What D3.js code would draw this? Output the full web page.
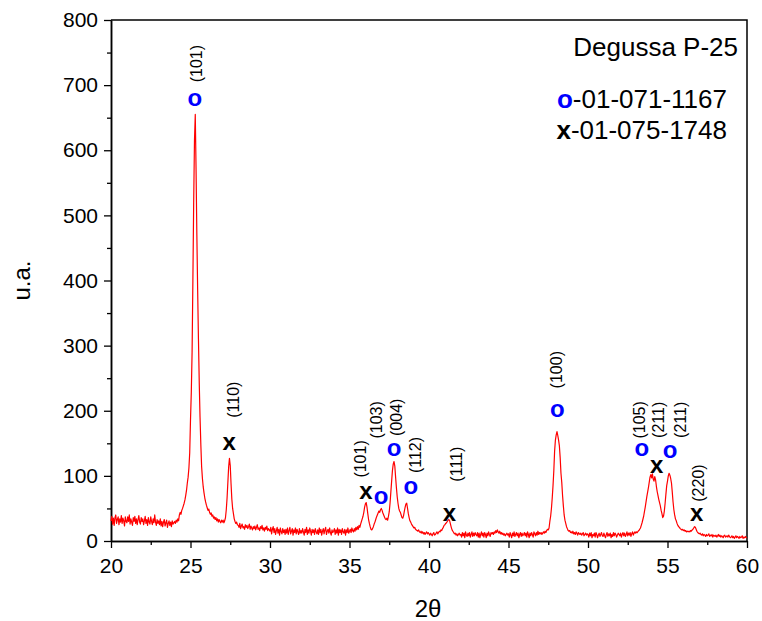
<!DOCTYPE html>
<html>
<head>
<meta charset="utf-8">
<script src="https://cdn.jsdelivr.net/npm/d3@7"></script>
<style>
  body { margin: 0; background: #fff; }
  svg { display: block; font-family: Arial, "Liberation Sans", sans-serif; }
</style>
</head>
<body>
<svg id="chart" width="762" height="621"></svg>
<script>
// XRD scan of Degussa P-25: 2θ from 20° to 60° in 0.05° steps
const scanStart = 20;
const scanStep = 0.05;

const counts20to25 = [
  31,38,26,35,24,36,40,27,33,37,25,34,29,39,27,35,31,23,37,30,
  28,37,30,40,26,34,29,24,36,30,38,27,34,25,33,39,29,26,36,30,
  34,25,31,38,27,33,24,36,29,26,37,30,25,34,28,40,29,24,33,27,
  31,25,34,23,30,22,29,33,23,28,32,21,27,31,24,29,22,31,26,28,
  30,27,32,29,34,31,40,44,41,47,50,54,58,63,70,78,89,98,112,135
];
const counts25to30 = [
  186,228,290,400,520,615,655,570,470,385,310,243,190,148,114,96,83,74,66,60,
  55,51,47,49,44,41,43,38,40,35,37,33,36,31,34,29,33,30,28,32,
  29,32,28,31,36,48,66,90,114,127,116,88,64,50,42,34,30,27,29,25,
  24,21,27,19,23,26,20,22,18,25,21,24,19,22,26,18,23,20,17,22,
  19,23,17,21,25,18,20,16,22,19,24,17,20,15,21,18,23,16,19,17
];
const counts30to35 = [
  15,21,11,18,22,13,19,10,16,21,12,18,9,20,14,11,19,13,17,10,
  18,12,20,10,16,21,11,15,19,9,17,13,20,11,18,14,10,19,12,16,
  12,19,14,9,18,13,21,10,17,12,20,15,9,18,13,17,10,19,14,11,
  17,10,20,13,18,9,15,19,11,17,21,10,15,18,12,20,13,9,17,13,
  15,19,10,17,12,20,9,18,13,17,10,19,14,12,18,9,17,13,20,12
];
const counts35to40 = [
  15,18,13,20,16,14,19,15,21,17,22,18,24,21,26,30,34,38,44,52,
  57,59,52,42,33,27,22,18,17,19,22,26,29,33,37,40,43,46,44,48,
  50,47,43,40,37,34,33,35,32,38,45,58,75,92,108,118,122,115,98,82,
  68,58,50,46,44,40,36,35,39,46,52,57,58,50,42,36,31,29,26,24,
  22,20,21,18,17,16,15,17,14,13,15,12,14,11,13,10,12,14,11,13
];
const counts40to45 = [
  11,9,12,10,8,11,13,9,10,12,14,11,13,15,14,17,16,19,21,24,
  25,27,28,30,32,33,31,26,21,17,15,13,11,12,9,11,8,10,12,9,
  10,6,13,8,12,5,14,9,7,12,8,13,6,10,14,7,12,8,13,10,
  8,13,6,12,5,10,14,8,12,6,13,10,5,12,8,14,10,7,13,11,
  13,10,14,12,16,13,17,14,12,15,11,13,10,12,9,11,8,10,12,9
];
const counts45to50 = [
  11,6,13,9,5,12,8,14,7,10,13,8,12,5,10,13,7,12,8,10,
  13,8,12,6,14,10,5,12,8,13,10,6,14,11,8,13,9,15,10,13,
  11,13,10,12,14,12,15,13,16,18,17,20,30,38,50,66,85,108,138,155,
  163,168,162,155,146,128,104,90,70,54,40,32,27,22,19,16,15,16,13,14,
  12,15,11,13,10,14,12,9,13,11,10,12,9,11,13,8,10,12,9,11
];
const counts50to55 = [
  10,6,12,8,13,5,10,8,12,6,13,10,5,9,12,7,10,13,8,7,
  12,8,5,10,13,7,11,8,12,5,10,7,13,8,12,10,6,9,12,10,
  8,12,6,10,13,8,12,7,10,14,8,12,9,13,7,11,14,9,12,14,
  12,14,13,15,16,18,20,24,28,33,38,45,52,60,68,75,82,90,98,102,
  97,103,95,92,99,94,84,76,70,64,59,54,47,42,36,38,46,58,72,85
];
const counts55to60 = [
  92,100,104,101,96,89,75,60,48,40,34,31,27,24,22,21,19,18,17,18,
  16,17,15,16,14,15,14,15,14,16,15,17,18,20,22,21,18,15,13,12,
  11,12,10,9,11,8,10,9,7,10,8,9,11,7,9,8,10,6,9,8,
  7,9,6,8,10,7,9,6,8,7,5,8,9,6,7,8,6,9,7,5,
  6,8,5,7,4,6,8,5,7,6,4,7,5,6,8,4,6,5,7,5,
  5
];

// Reflection markers: 2θ, marker height, hkl label and its position (data units)
const anataseTheta  = [25.28, 36.98, 37.80, 38.85, 48.07, 53.38, 55.16];
const anataseMarkY  = [677, 66, 140, 82, 199, 140, 136];
const anataseHkl    = ["(101)", "(103)", "(004)", "(112)", "(100)", "(105)", "(211)"];
const anataseLabelX = [25.39, 36.67, 37.97, 39.12, 48.03, 53.23, 55.79];
const anataseLabelY = [733, 186, 190, 132, 263, 186, 186];

const rutileTheta  = [27.44, 36.04, 41.28, 54.32, 56.84];
const rutileMarkY  = [149, 73, 40, 114, 40];
const rutileHkl    = ["(110)", "(101)", "(111)", "(211)", "(220)"];
const rutileLabelX = [27.69, 35.66, 41.74, 54.42, 56.94];
const rutileLabelY = [217, 126, 118, 186, 89];

const xTicks = [20, 25, 30, 35, 40, 45, 50, 55, 60];
const yTicks = [0, 100, 200, 300, 400, 500, 600, 700, 800];

const sampleName = "Degussa P-25";
const anataseCard = "01-071-1167";
const rutileCard  = "01-075-1748";

const counts = [].concat(counts20to25, counts25to30, counts30to35, counts35to40,
                         counts40to45, counts45to50, counts50to55, counts55to60);
const scan = counts.map((c, i) => ({ t: scanStart + i * scanStep, c }));

const svg = d3.select("#chart");
const L = 111, R = 747, T = 20, B = 541;
const x = d3.scaleLinear().domain([20, 60]).range([L, R]);
const y = d3.scaleLinear().domain([0, 800]).range([B, T]);

// minor ticks halfway between the labelled ones
const xMinor = d3.range(22.5, 60, 5);
const yMinor = d3.range(50, 800, 100);

const axisStyle = g => {
  g.selectAll(".domain").attr("stroke", "#000").attr("stroke-width", 1.5);
  g.selectAll(".tick line").attr("stroke", "#000").attr("stroke-width", 1.3);
  g.selectAll(".tick text").attr("fill", "#000").attr("font-size", 21);
};

svg.append("g").attr("transform", `translate(0,${B})`)
  .call(d3.axisBottom(x).tickValues(xMinor).tickSize(4).tickSizeOuter(0).tickFormat(""))
  .call(axisStyle);
svg.append("g").attr("transform", `translate(0,${B})`)
  .call(d3.axisBottom(x).tickValues(xTicks).tickSize(7).tickSizeOuter(0).tickPadding(10).tickFormat(d3.format("d")))
  .call(axisStyle);

svg.append("g").attr("transform", `translate(${L},0)`)
  .call(d3.axisLeft(y).tickValues(yMinor).tickSize(4).tickSizeOuter(0).tickFormat(""))
  .call(axisStyle);
svg.append("g").attr("transform", `translate(${L},0)`)
  .call(d3.axisLeft(y).tickValues(yTicks).tickSize(7).tickSizeOuter(0).tickPadding(6).tickFormat(d3.format("d")))
  .call(axisStyle);

// frame on top and right
svg.append("path")
  .attr("d", `M${L},${T}H${R}V${B}`)
  .attr("fill", "none").attr("stroke", "#000").attr("stroke-width", 1.5);

// diffraction pattern
svg.append("path")
  .datum(scan)
  .attr("fill", "none")
  .attr("stroke", "#ff0000")
  .attr("stroke-width", 1.2)
  .attr("stroke-linejoin", "round")
  .attr("d", d3.line().x(d => x(d.t)).y(d => y(d.c)));

// reflection symbols and hkl labels
function drawMarkers(theta, markY, hkl, labelX, labelY, symbol, color) {
  const g = svg.append("g");
  g.selectAll("text.sym").data(theta).join("text")
    .attr("class", "sym")
    .attr("x", d => x(d))
    .attr("y", (d, i) => y(markY[i]) + 6)
    .attr("text-anchor", "middle")
    .attr("font-size", 24).attr("font-weight", "bold")
    .attr("fill", color)
    .text(symbol);
  g.selectAll("text.hkl").data(hkl).join("text")
    .attr("class", "hkl")
    .attr("transform", (d, i) => `translate(${x(labelX[i])},${y(labelY[i])}) rotate(-90)`)
    .attr("text-anchor", "middle")
    .attr("dy", "0.35em")
    .attr("font-size", 16)
    .attr("fill", "#000")
    .text(d => d);
}
drawMarkers(anataseTheta, anataseMarkY, anataseHkl, anataseLabelX, anataseLabelY, "o", "#0000ff");
drawMarkers(rutileTheta, rutileMarkY, rutileHkl, rutileLabelX, rutileLabelY, "x", "#000");

// legend
svg.append("text").attr("x", 738).attr("y", 56)
  .attr("text-anchor", "end").attr("font-size", 26).attr("fill", "#000")
  .text(sampleName);
const l1 = svg.append("text").attr("x", 727).attr("y", 108)
  .attr("text-anchor", "end").attr("font-size", 26).attr("fill", "#000");
l1.append("tspan").attr("font-weight", "bold").attr("fill", "#0000ff").text("o");
l1.append("tspan").text("-" + anataseCard);
const l2 = svg.append("text").attr("x", 727).attr("y", 139)
  .attr("text-anchor", "end").attr("font-size", 26).attr("fill", "#000");
l2.append("tspan").attr("font-weight", "bold").text("x");
l2.append("tspan").text("-" + rutileCard);

// axis titles
svg.append("text").attr("x", (L + R) / 2 - 1).attr("y", 617)
  .attr("text-anchor", "middle").attr("font-size", 24).attr("fill", "#000")
  .text("2θ");
svg.append("text")
  .attr("transform", `translate(30,${(T + B) / 2}) rotate(-90)`)
  .attr("text-anchor", "middle").attr("font-size", 24).attr("fill", "#000")
  .text("u.a.");
</script>
</body>
</html>
